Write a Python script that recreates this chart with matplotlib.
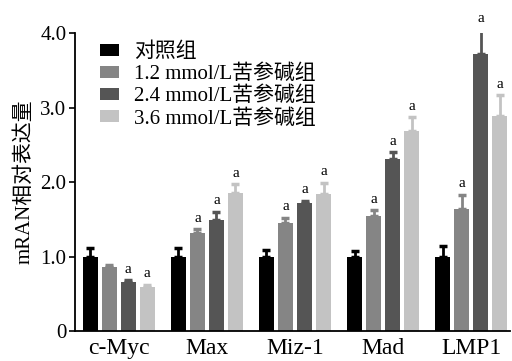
import numpy as np
import matplotlib
matplotlib.use("Agg")
import matplotlib.pyplot as plt

plt.rcParams['font.family'] = ['Liberation Serif', 'Noto Sans CJK SC']

genes = ["c-Myc", "Max", "Miz-1", "Mad", "LMP1"]
groups = ["对照组", "1.2 mmol/L苦参碱组", "2.4 mmol/L苦参碱组", "3.6 mmol/L苦参碱组"]
colors = ["#000000", "#858585", "#555555", "#c3c3c3"]

means = [
    [1.00, 1.00, 1.00, 1.00, 1.00],
    [0.86, 1.31, 1.45, 1.54, 1.64],
    [0.66, 1.49, 1.72, 2.31, 3.72],
    [0.59, 1.85, 1.84, 2.68, 2.89],
]
errs = [
    [0.12, 0.11, 0.09, 0.08, 0.14],
    [0.03, 0.06, 0.07, 0.08, 0.19],
    [0.02, 0.11, 0.03, 0.09, 0.33],
    [0.03, 0.12, 0.15, 0.19, 0.28],
]
# significance marks ("a") per group / gene
sig = [
    [False] * 5,
    [False, True, True, True, True],
    [True] * 5,
    [True] * 5,
]

fig = plt.figure(figsize=(5.12, 3.61), dpi=100)
ax = fig.add_axes([0.146, 0.083, 0.85, 0.825])

x = np.arange(len(genes))
step = 0.216
width = 0.17
for i, (g, c) in enumerate(zip(groups, colors)):
    pos = x + (i - 1.5) * step
    ax.bar(pos, means[i], width=width, color=c, label=g, zorder=2)
    ax.errorbar(pos, means[i], yerr=[np.zeros(5), errs[i]], fmt="none",
                ecolor=c, elinewidth=2, capsize=3, capthick=2.5, zorder=1)
    for j in range(5):
        if sig[i][j]:
            ax.text(pos[j], means[i][j] + errs[i][j] + 0.06, "a",
                    ha="center", va="bottom", fontsize=11)

ax.set_xlim(-0.5, 4.44)
ax.set_ylim(0, 4.0)
ax.set_yticks([0, 1, 2, 3, 4])
ax.set_yticklabels(["0", "1.0", "2.0", "3.0", "4.0"], fontsize=15)
ax.set_xticks(x)
ax.set_xticklabels(genes, fontsize=17)
ax.tick_params(axis="x", length=0, pad=5)
ax.tick_params(axis="y", length=4, width=1.2, direction="out", pad=2)
for s in ["top", "right"]:
    ax.spines[s].set_visible(False)
ax.spines["left"].set_linewidth(1.3)
ax.spines["bottom"].set_linewidth(1.3)
ax.set_ylabel("mRAN相对表达量", fontsize=15, labelpad=4)

ax.legend(loc="upper left", bbox_to_anchor=(0.03, 1.01), frameon=False,
          fontsize=15, handlelength=0.9, handleheight=0.55,
          handletextpad=0.7, labelspacing=0.12, borderaxespad=0.2)

fig.savefig("out.png", dpi=100)
